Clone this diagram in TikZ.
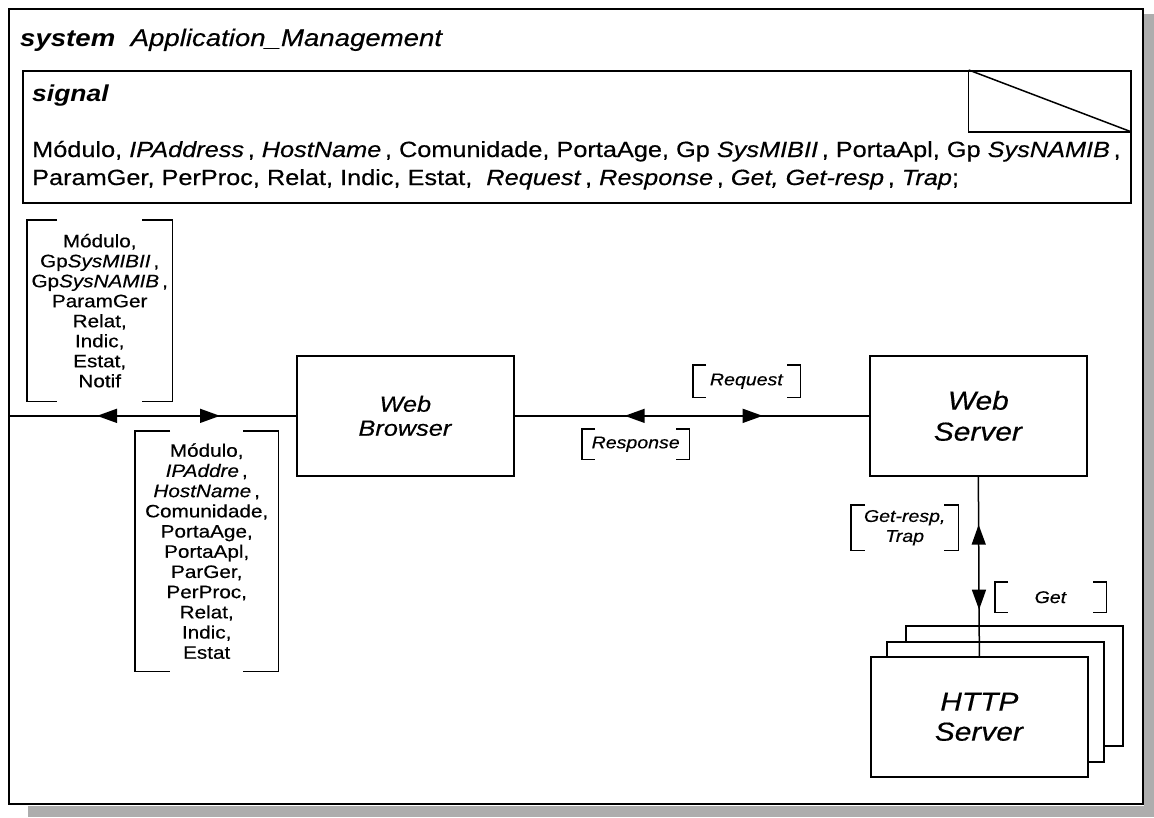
\documentclass[tikz,border=0pt]{standalone}
\usepackage{fontspec}
\setmainfont{Liberation Sans}[FakeStretch=1.15,
  UprightFeatures={FakeBold=0.4}, ItalicFeatures={FakeBold=0.4}]
\usetikzlibrary{arrows.meta,decorations.markings}

\newcommand\sigbrackets[2]{%
  \draw[brkline] ([xshift=#2]#1.north west) -| (#1.south west) -- ++(#2,0)
                 ([xshift=-#2]#1.north east) -| (#1.south east) -- ++(-#2,0);}

\tikzset{
  block/.style={draw, line width=1.7pt, fill=white, minimum width=217pt,
                minimum height=120pt, inner sep=0pt, align=center,
                anchor=north west},
  sigtext/.style={inner sep=0pt, align=center, anchor=north west},
  brkline/.style={line width=1.7pt},
  link/.style={line width=1.5pt},
  twoway/.style 2 args={postaction={decorate}, decoration={markings,
      mark=at position #1 with {\arrowreversed{Triangle[length=20pt,width=14pt]}},
      mark=at position #2 with {\arrow{Triangle[length=20pt,width=14pt]}}}},
}

\begin{document}
\begin{tikzpicture}[x=1pt,y=-1pt]
\useasboundingbox (0,0) rectangle (1154,817);

% drop shadow of the system frame
\fill[black!32] (1144,14) rectangle (1154,817);
\fill[black!32] (28,806) rectangle (1154,817);

% system frame
\node[draw, line width=1.9pt, fill=white, minimum width=1134pt, minimum height=795pt,
      inner sep=0pt, anchor=north west] (frame) at (8,8) {};
\node[anchor=base west, inner sep=0pt, font=\fontsize{24}{28}\selectfont] (title) at (20,46)
  {\textbf{\textit{system}}\ \ \textit{Application\_Management}};

% signal declaration box
\node[draw, line width=1.7pt, minimum width=1108pt, minimum height=132pt,
      inner sep=0pt, anchor=north west] (sigbox) at (22,70) {};
\draw[line width=1.5pt] ([xshift=-163pt]sigbox.north east) |- ([yshift=-62pt]sigbox.north east);
\draw[line width=1.5pt] ([xshift=-163pt]sigbox.north east) -- ([yshift=-62pt]sigbox.north east);
\node[anchor=base west, inner sep=0pt, font=\fontsize{23}{28}\selectfont] (sighead) at (32,101)
  {\textbf{\textit{signal}}};
\node[anchor=base west, inner sep=0pt, font=\fontsize{22}{28}\selectfont] (sigl1) at (32,157)
  {Módulo, \textit{IPAddress}\,, \textit{HostName}\,, Comunidade, PortaAge, Gp \textit{SysMIBII}\,, PortaApl, Gp \textit{SysNAMIB}\,,};
\node[anchor=base west, inner sep=0pt, font=\fontsize{22}{28}\selectfont] (sigl2) at (32,185)
  {ParamGer, PerProc, Relat, Indic, Estat,\ \ \textit{Request}\,, \textit{Response}\,, \textit{Get,} \textit{Get-resp}\,, \textit{Trap};};

% blocks
\node[block, font=\fontsize{22}{24}\selectfont] (browser) at (296,355) {\textit{Web}\\\textit{Browser}};
\node[block, font=\fontsize{26}{31}\selectfont] (server) at (869,355) {\textit{Web}\\\textit{Server}};
\node[block] (http3) at (905,625) {};
\node[block] (http2) at (886,641) {};
\node[block, font=\fontsize{26}{30}\selectfont] (http) at (870,656) {\textit{HTTP}\\\textit{Server}};

% signal lists
\node[sigtext, minimum width=145pt, minimum height=181pt, font=\fontsize{18}{20}\selectfont] (upl) at (27,220)
  {Módulo,\\Gp\textit{SysMIBII}\,,\\Gp\textit{SysNAMIB}\,,\\ParamGer\\Relat,\\Indic,\\Estat,\\Notif};
\node[sigtext, minimum width=143pt, minimum height=240pt, font=\fontsize{18}{20.2}\selectfont] (lol) at (135,431)
  {Módulo,\\\textit{IPAddre}\,,\\\textit{HostName}\,,\\Comunidade,\\PortaAge,\\PortaApl,\\ParGer,\\PerProc,\\Relat,\\Indic,\\Estat};
\node[sigtext, minimum width=107pt, minimum height=32pt, font=\fontsize{17}{20}\selectfont] (req) at (693,365) {\textit{Request}};
\node[sigtext, minimum width=107pt, minimum height=30pt, font=\fontsize{17}{20}\selectfont] (resp) at (582,429) {\textit{Response}};
\node[sigtext, minimum width=107pt, minimum height=45pt, font=\fontsize{17}{20}\selectfont] (getr) at (851,505) {\textit{Get-resp,}\\\textit{Trap}};
\node[sigtext, minimum width=111pt, minimum height=30pt, font=\fontsize{17}{20}\selectfont] (get) at (995,582) {\textit{Get}};

\sigbrackets{upl}{30pt}
\sigbrackets{lol}{35pt}
\sigbrackets{req}{13pt}
\sigbrackets{resp}{13pt}
\sigbrackets{getr}{14pt}
\sigbrackets{get}{13pt}

% channels
\coordinate (envL) at (frame.west |- browser.west);
\draw[link, twoway={89pt}{212pt}] (envL) -- (browser.west);
\draw[link, twoway={110pt}{248pt}] (browser.east) -- (server.west);
\draw[link, twoway={48pt}{133pt}] (server.south) -- (http.north);
\end{tikzpicture}
\end{document}
